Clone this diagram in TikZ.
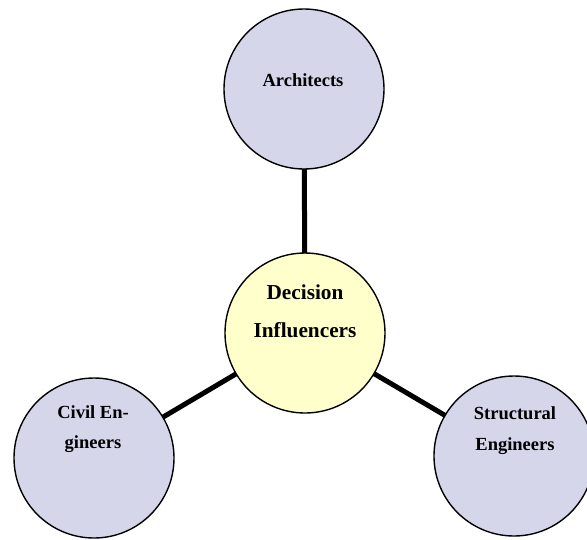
\documentclass[tikz,border=0pt]{standalone}
\usepackage{fontspec}
\setmainfont{Liberation Serif}
\definecolor{lav}{RGB}{214,214,235}
\definecolor{pale}{RGB}{255,255,204}
\begin{document}
\begin{tikzpicture}[x=1pt,y=-1pt,
  bubble/.style={circle,draw=black,line width=1.4pt,minimum size=160pt,inner sep=0pt,outer sep=0pt,fill=lav},
  hub/.style={bubble,fill=pale},
  txt/.style={anchor=base,inner sep=0pt,font=\bfseries\fontsize{18.5}{18.5}\selectfont},
  hubtxt/.style={anchor=base,inner sep=0pt,font=\bfseries\fontsize{21.3}{21.3}\selectfont},
  link/.style={line width=5pt}]
\useasboundingbox (0,0) rectangle (587,539);
\begin{scope}
\clip (0,0) rectangle (587,539);
\node[bubble] (arch) at (304,89) {};
\node[hub] (dec) at (305,333) {};
\node[bubble] (civil) at (94,458) {};
\node[bubble] (struct) at (514,456) {};
\draw[link] (arch) -- (dec);
\draw[link] (dec) -- (civil);
\draw[link] (dec) -- (struct);
\node[txt] (t1) at (303,86) {Architects};
\node[hubtxt] (t2) at (305,299) {Decision};
\node[hubtxt] (t3) at (305,337) {Influencers};
\node[txt] (t4) at (93,418) {Civil En-};
\node[txt] (t5) at (93,448) {gineers};
\node[txt] (t6) at (515,419) {Structural};
\node[txt] (t7) at (515,450) {Engineers};
\end{scope}
\end{tikzpicture}
\end{document}
